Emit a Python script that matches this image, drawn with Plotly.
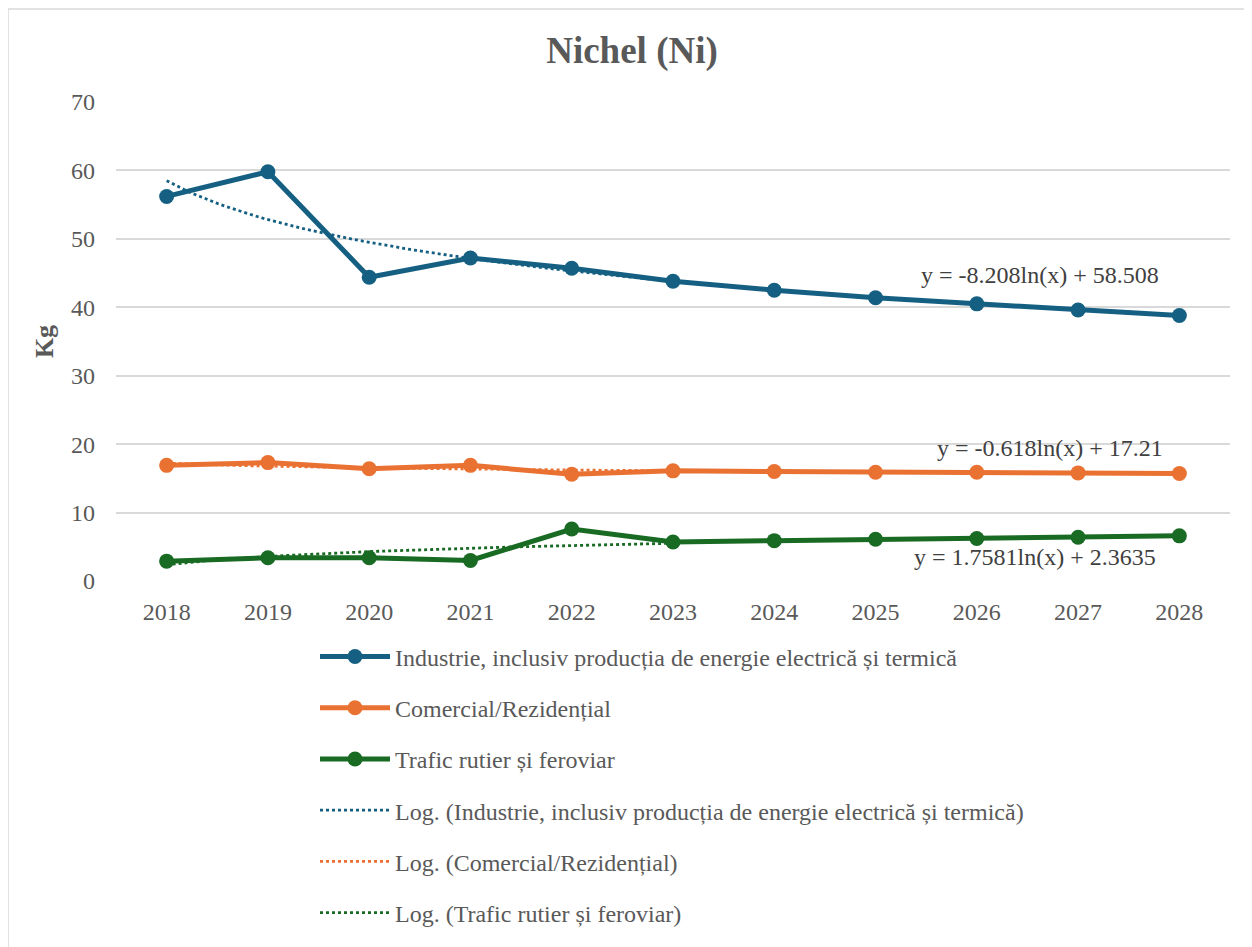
import numpy as np
import plotly.graph_objects as go

years = [2018, 2019, 2020, 2021, 2022, 2023, 2024, 2025, 2026, 2027, 2028]

industrie = [56.2, 59.8, 44.4, 47.2, 45.7, 43.8, 42.5, 41.4, 40.5, 39.6, 38.8]
comercial = [16.9, 17.3, 16.4, 16.9, 15.6, 16.1, 16.0, 15.9, 15.9, 15.8, 15.7]
trafic = [2.9, 3.4, 3.4, 3.0, 7.6, 5.7, 5.9, 6.1, 6.2, 6.4, 6.6]

names = [
    "Industrie, inclusiv producția de energie electrică și termică",
    "Comercial/Rezidențial",
    "Trafic rutier și feroviar",
]

# log trendline coefficients (y = a*ln(x) + b), fitted on 2018-2023
trend_a = [-8.208, -0.618, 1.7581]
trend_b = [58.508, 17.21, 2.3635]
trend_labels = [
    "y = -8.208ln(x) + 58.508",
    "y = -0.618ln(x) + 17.21",
    "y = 1.7581ln(x) + 2.3635",
]
label_pos = [(2026.62, 44.7), (2026.72, 19.4), (2026.57, 3.5)]

COLORS = ["#156082", "#E97132", "#196B24"]
FONT = "Liberation Serif, Times New Roman, serif"
GRAY = "#595959"

# page body adds 8px offset, so figure is 8px smaller than window
W, H = 1244, 939
L, R, T, B = 108, 22, 94, 361
PW = W - L - R
PH = H - T - B

fig = go.Figure()

series = [industrie, comercial, trafic]

for i, values in enumerate(series):
    fig.add_trace(
        go.Scatter(
            x=years,
            y=values,
            mode="lines+markers",
            line=dict(color=COLORS[i], width=5),
            marker=dict(color=COLORS[i], size=15),
            name=names[i],
            legendgroup=f"g{i}",
        )
    )

# trendline over the first 6 points (2018-2023)
t = np.linspace(1, 6, 80)
for i in range(3):
    fig.add_trace(
        go.Scatter(
            x=years[0] - 1 + t,
            y=trend_a[i] * np.log(t) + trend_b[i],
            mode="lines",
            line=dict(color=COLORS[i], width=2.8, dash="dot"),
            name=f"Log. ({names[i]})",
            legendgroup=f"t{i}",
        )
    )

for i, text in enumerate(trend_labels):
    fig.add_annotation(
        x=label_pos[i][0],
        y=label_pos[i][1],
        text=text,
        showarrow=False,
        font=dict(family=FONT, size=24, color="#404040"),
    )

# chart area border
fig.add_shape(
    type="rect",
    xref="paper",
    yref="paper",
    x0=-L / PW,
    x1=1.05,
    y0=-0.8,
    y1=1 + T / PH,
    line=dict(color="#D9D9D9", width=1.5),
    layer="below",
)

fig.update_layout(
    width=W,
    height=H,
    paper_bgcolor="white",
    plot_bgcolor="white",
    margin=dict(l=L, r=R, t=T, b=B),
    title=dict(
        text="<b>Nichel (Ni)</b>",
        x=(632 - 8) / W,
        xanchor="center",
        y=1 - (50 - 8) / H,
        yanchor="middle",
        font=dict(family=FONT, size=37, color=GRAY),
    ),
    font=dict(family=FONT, size=24, color=GRAY),
    xaxis=dict(
        range=[2017.5, 2028.5],
        tickmode="array",
        tickvals=years,
        ticktext=[str(y) for y in years],
        showgrid=False,
        zeroline=False,
        showline=False,
        ticks="",
        ticklabelstandoff=14,
        tickfont=dict(family=FONT, size=24, color=GRAY),
    ),
    yaxis=dict(
        range=[0, 70],
        dtick=10,
        showgrid=True,
        gridcolor="#D9D9D9",
        gridwidth=1.5,
        zeroline=False,
        showline=False,
        ticks="",
        ticklabelstandoff=20,
        tickfont=dict(family=FONT, size=24, color=GRAY),
        title=dict(
            text="<b>Kg</b>",
            font=dict(family=FONT, size=26, color=GRAY),
            standoff=9,
        ),
    ),
    showlegend=True,
    legend=dict(
        orientation="v",
        x=(315 - 8 - L) / PW,
        xanchor="left",
        y=-(640 - 8 - T - PH) / PH,
        yanchor="top",
        font=dict(family=FONT, size=24, color=GRAY),
        tracegroupgap=17,
        itemwidth=70,
        bgcolor="rgba(0,0,0,0)",
    ),
)

fig.write_html("out.html")
